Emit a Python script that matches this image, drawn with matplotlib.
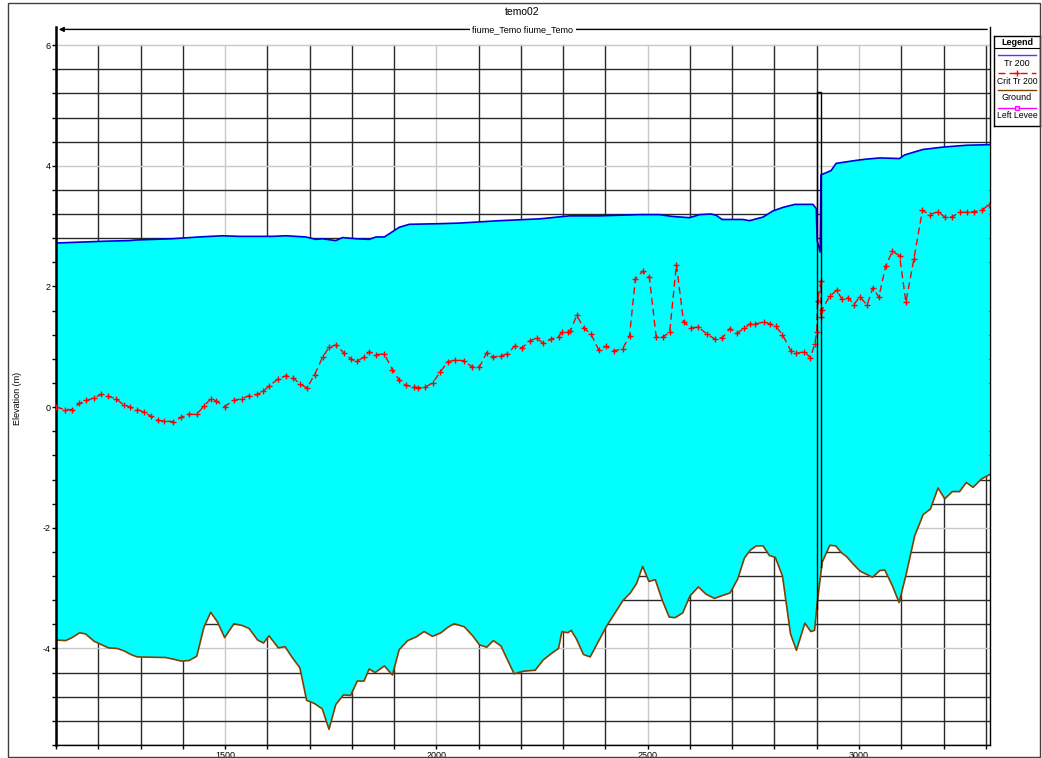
import numpy as np
import matplotlib
matplotlib.use('Agg')
import matplotlib.pyplot as plt
from matplotlib.patches import Rectangle

plt.rcParams['font.family'] = ['Liberation Sans', 'DejaVu Sans']

# Water surface Tr 200
ws_x = [1100, 1138, 1217, 1273, 1288, 1374, 1438, 1494, 1533, 1612,
        1644, 1691, 1715, 1730, 1762, 1778, 1810, 1841, 1857, 1877,
        1912, 1936, 2007, 2054, 2149, 2244, 2315, 2386, 2433, 2481,
        2528, 2559, 2599, 2623, 2650, 2662, 2676, 2701, 2725, 2741,
        2773, 2796, 2820, 2848, 2883, 2891, 2899, 2901, 2908, 2910,
        2934, 2946, 2994, 3017, 3049, 3096, 3108, 3151, 3199, 3254, 3309]
ws_y = [2.72, 2.73, 2.75, 2.76, 2.77, 2.79, 2.82, 2.84, 2.83, 2.83,
        2.84, 2.82, 2.78, 2.79, 2.76, 2.81, 2.79, 2.78, 2.82, 2.82,
        2.98, 3.03, 3.04, 3.05, 3.09, 3.12, 3.17, 3.17, 3.18, 3.19,
        3.19, 3.16, 3.14, 3.19, 3.20, 3.18, 3.11, 3.11, 3.11, 3.09,
        3.15, 3.25, 3.31, 3.36, 3.36, 3.36, 3.29, 2.76, 2.57, 3.85,
        3.92, 4.04, 4.09, 4.11, 4.13, 4.12, 4.18, 4.27, 4.31, 4.34, 4.35]

# Critical water surface Tr 200
crit_x = [1100, 1122, 1137, 1155, 1172, 1189, 1207, 1223, 1242, 1261,
          1275, 1291, 1308, 1324, 1341, 1356, 1377, 1396, 1415, 1433,
          1450, 1467, 1479, 1499, 1520, 1539, 1557, 1576, 1590, 1604,
          1626, 1644, 1661, 1677, 1694, 1712, 1731, 1746, 1762, 1781,
          1799, 1812, 1829, 1841, 1857, 1877, 1896, 1912, 1928, 1948,
          1956, 1973, 1991, 2009, 2027, 2043, 2065, 2084, 2102, 2119,
          2134, 2152, 2168, 2185, 2203, 2221, 2237, 2253, 2272, 2289,
          2297, 2311, 2317, 2332, 2349, 2366, 2384, 2402, 2420, 2441,
          2457, 2471, 2488, 2504, 2520, 2536, 2552, 2568, 2585, 2603,
          2620, 2640, 2659, 2677, 2694, 2712, 2729, 2742, 2755, 2775,
          2789, 2803, 2819, 2839, 2852, 2871, 2885, 2895, 2900, 2902,
          2910, 2910, 2912, 2931, 2948, 2959, 2975, 2988, 3002, 3019,
          3033, 3047, 3063, 3079, 3096, 3111, 3130, 3150, 3167, 3187,
          3203, 3220, 3238, 3256, 3272, 3290, 3307]
crit_y = [0.00, -0.04, -0.04, 0.06, 0.11, 0.15, 0.21, 0.18, 0.14, 0.03,
          0.00, -0.04, -0.08, -0.15, -0.22, -0.23, -0.24, -0.17, -0.12, -0.12,
          0.02, 0.14, 0.10, 0.01, 0.11, 0.14, 0.19, 0.21, 0.26, 0.35,
          0.47, 0.52, 0.49, 0.38, 0.32, 0.54, 0.83, 0.99, 1.03, 0.90,
          0.79, 0.76, 0.83, 0.92, 0.87, 0.88, 0.62, 0.45, 0.36, 0.34,
          0.32, 0.33, 0.40, 0.58, 0.75, 0.78, 0.77, 0.67, 0.67, 0.90,
          0.83, 0.85, 0.88, 1.01, 0.98, 1.10, 1.14, 1.06, 1.13, 1.17,
          1.24, 1.24, 1.26, 1.52, 1.31, 1.21, 0.95, 1.01, 0.93, 0.97,
          1.18, 2.13, 2.25, 2.15, 1.17, 1.16, 1.24, 2.36, 1.41, 1.31,
          1.33, 1.21, 1.13, 1.15, 1.30, 1.23, 1.31, 1.38, 1.38, 1.41,
          1.38, 1.34, 1.20, 0.93, 0.89, 0.92, 0.82, 1.04, 1.24, 1.76,
          2.09, 1.50, 1.61, 1.84, 1.94, 1.79, 1.81, 1.70, 1.83, 1.69,
          1.98, 1.82, 2.34, 2.58, 2.51, 1.74, 2.46, 3.26, 3.19, 3.24,
          3.15, 3.15, 3.23, 3.23, 3.24, 3.26, 3.35]

# Ground (channel bottom)
ground_x = [1100, 1123, 1138, 1156, 1170, 1190, 1224, 1245, 1261, 1277,
            1292, 1359, 1379, 1397, 1415, 1433, 1450, 1466, 1482, 1499,
            1521, 1541, 1557, 1577, 1591, 1604, 1626, 1642, 1659, 1677,
            1693, 1711, 1730, 1746, 1762, 1780, 1797, 1813, 1829, 1841,
            1855, 1877, 1896, 1912, 1932, 1952, 1971, 1991, 2011, 2027,
            2042, 2066, 2086, 2102, 2119, 2135, 2153, 2169, 2184, 2203,
            2234, 2253, 2271, 2289, 2297, 2311, 2319, 2332, 2348, 2364,
            2402, 2441, 2459, 2474, 2488, 2503, 2518, 2535, 2551, 2565,
            2583, 2600, 2620, 2638, 2658, 2678, 2695, 2713, 2729, 2743,
            2757, 2773, 2788, 2802, 2819, 2838, 2852, 2872, 2886, 2895,
            2901, 2913, 2931, 2945, 2958, 2971, 2986, 3003, 3032, 3049,
            3061, 3079, 3095, 3112, 3132, 3152, 3169, 3187, 3203, 3221,
            3238, 3254, 3270, 3290, 3309]
ground_y = [-3.86, -3.87, -3.82, -3.74, -3.76, -3.88, -3.99, -4.00, -4.04, -4.10,
            -4.14, -4.15, -4.18, -4.21, -4.20, -4.13, -3.65, -3.40, -3.56, -3.82,
            -3.59, -3.62, -3.67, -3.86, -3.91, -3.79, -3.99, -3.97, -4.15, -4.32,
            -4.86, -4.91, -5.00, -5.34, -4.93, -4.77, -4.78, -4.54, -4.54, -4.34,
            -4.40, -4.29, -4.44, -4.02, -3.87, -3.81, -3.72, -3.80, -3.74, -3.65,
            -3.59, -3.64, -3.79, -3.94, -3.98, -3.87, -3.96, -4.20, -4.42, -4.38,
            -4.36, -4.19, -4.09, -4.00, -3.72, -3.74, -3.70, -3.85, -4.10, -4.14,
            -3.64, -3.21, -3.08, -2.92, -2.64, -2.89, -2.86, -3.21, -3.48, -3.49,
            -3.41, -3.13, -2.98, -3.10, -3.17, -3.12, -3.08, -2.85, -2.50, -2.37,
            -2.30, -2.30, -2.46, -2.49, -2.80, -3.76, -4.03, -3.58, -3.72, -3.70,
            -3.26, -2.57, -2.29, -2.30, -2.41, -2.48, -2.60, -2.72, -2.82, -2.71,
            -2.70, -2.96, -3.24, -2.76, -2.13, -1.78, -1.69, -1.34, -1.52, -1.40,
            -1.40, -1.25, -1.33, -1.19, -1.12]

# structure (culvert / bridge deck) outline
struct_x = [2900, 2910]
struct_top = 5.22
struct_low = [-3.35, -2.65]

W, H = 1042, 758
fig = plt.figure(figsize=(W / 100, H / 100), dpi=100)
ax = fig.add_axes([56 / W, 1 - 745 / H, (990 - 56) / W, (745 - 27) / H])

xmin, xmax = 1100, 3310
ymin, ymax = -5.6, 6.30
ax.set_xlim(xmin, xmax)
ax.set_ylim(ymin, ymax)

# grid: minor lines dark, labelled lines light grey, stop at 6.0
x_minor = np.arange(1100, 3301, 100)
x_major = [1500, 2000, 2500, 3000]
y_minor = np.arange(-5.6, 6.01, 0.4)
y_major = [-4, -2, 0, 2, 4, 6]
for xv in x_minor:
    c = '#c8c8c8' if xv in x_major else '#2a2a2a'
    ax.plot([xv, xv], [ymin, 6.0], color=c, lw=1.0, zorder=0.5)
for yv in y_minor:
    c = '#c8c8c8' if round(yv, 1) in y_major else '#2a2a2a'
    ax.plot([xmin, xmax], [yv, yv], color=c, lw=1.0, zorder=0.5)

# water between ground and water surface
poly_x = np.concatenate([ws_x, ground_x[::-1]])
poly_y = np.concatenate([ws_y, ground_y[::-1]])
ax.fill(poly_x, poly_y, color='#00ffff', lw=0, zorder=1)

ax.plot(ground_x, ground_y, color='#804000', lw=1.2, zorder=2)
ax.plot(ws_x, ws_y, color='#0000dd', lw=1.2, zorder=2)
ax.plot(crit_x, crit_y, color='#ff0000', lw=1.0, linestyle=(0, (5, 3)),
        marker='+', markersize=4, markeredgewidth=1.0, zorder=3)

ax.plot([struct_x[0], struct_x[0], struct_x[1], struct_x[1]],
        [struct_low[0], struct_top, struct_top, struct_low[1]],
        color='black', lw=1.0, zorder=4)

# reach arrow across the top
ax.annotate('', xy=(xmin, 6.26), xytext=(xmax, 6.26),
            arrowprops=dict(arrowstyle='-|>', color='black', lw=1.0, mutation_scale=7),
            annotation_clip=False)
ax.text((xmin + xmax) / 2, 6.26, 'fiume_Temo fiume_Temo', ha='center', va='center',
        fontsize=6.5, bbox=dict(facecolor='white', edgecolor='none', pad=1.5), zorder=5)

ax.set_xticks(x_major)
ax.set_xticks(x_minor, minor=True)
ax.set_yticks(y_major)
ax.set_yticks(y_minor, minor=True)
ax.tick_params(which='both', direction='out', labelsize=6.5, colors='black', width=1)
ax.tick_params(axis='x', which='major', length=3, pad=1)
ax.tick_params(axis='x', which='minor', length=3)
ax.tick_params(axis='y', which='major', length=3, pad=1)
ax.tick_params(axis='y', which='minor', length=3)
ax.set_yticklabels([str(v) for v in y_major])

ax.spines['top'].set_visible(False)
ax.spines['left'].set_linewidth(1.8)
ax.spines['bottom'].set_linewidth(1.0)
ax.spines['right'].set_linewidth(1.0)

fig.text(522 / W, 1 - 12 / H, 'temo02', ha='center', va='center', fontsize=7.5)
fig.text(17 / W, 1 - 398 / H, 'Elevation (m)', ha='center', va='center',
         rotation=90, fontsize=6.5)

# outer frame
fig.patches.append(Rectangle((8 / W, 1 / H), 1032 / W, 754 / H, transform=fig.transFigure,
                             fill=False, edgecolor='#404040', lw=1.0))

# legend box drawn in pixel-like coordinates
lg = fig.add_axes([994 / W, 1 - 126 / H, 46 / W, 90 / H])
lg.set_xlim(0, 46)
lg.set_ylim(126, 36)
lg.set_xticks([])
lg.set_yticks([])
for s in lg.spines.values():
    s.set_linewidth(1.0)
lg.plot([0, 46], [48, 48], color='black', lw=0.8)
lg.text(23, 42.5, 'Legend', ha='center', va='center', fontsize=6.5, fontweight='bold')
lg.plot([4, 42], [55, 55], color='#4040ff', lw=1.0)
lg.text(23, 63, 'Tr 200', ha='center', va='center', fontsize=6.5)
lg.plot([4, 42], [72.5, 72.5], color='#ff0000', lw=1.0, linestyle=(0, (5, 3)))
lg.plot([23], [72.5], color='#ff0000', marker='+', markersize=4, markeredgewidth=1.0)
lg.text(23, 81, 'Crit Tr 200', ha='center', va='center', fontsize=6.2)
lg.plot([4, 42], [90, 90], color='#804000', lw=1.0)
lg.text(23, 98, 'Ground', ha='center', va='center', fontsize=6.5)
lg.plot([4, 42], [107.5, 107.5], color='#ff00ff', lw=1.0)
lg.plot([23], [107.5], color='#ff00ff', marker='s', markersize=3,
        markerfacecolor='#ffa0ff', markeredgewidth=0.8)
lg.text(23, 116, 'Left Levee', ha='center', va='center', fontsize=6.2)

fig.savefig('out.png', dpi=100)
